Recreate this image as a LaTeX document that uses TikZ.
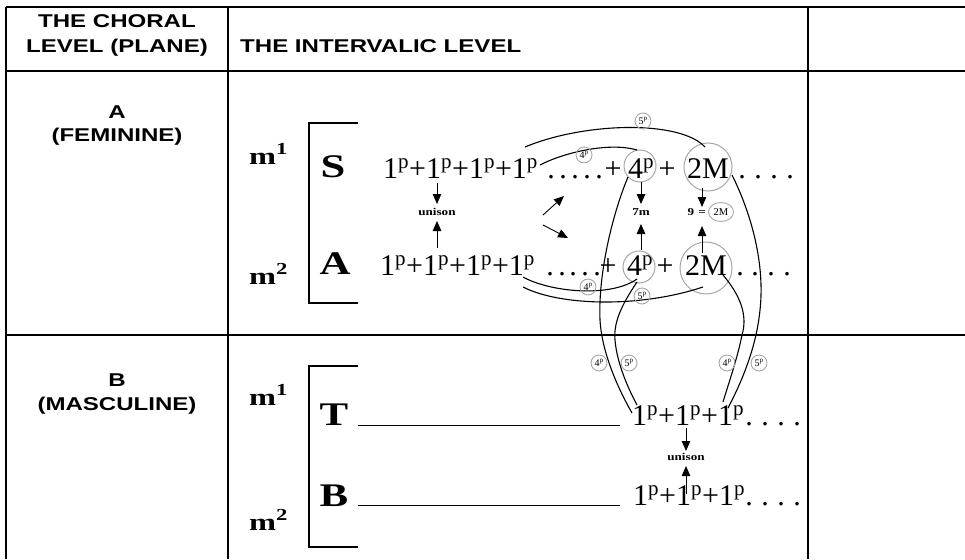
\documentclass[tikz,border=0pt]{standalone}
\usepackage{fontspec}
\usepackage{graphicx}
\setmainfont{Liberation Serif}
\newfontfamily\hdrfont{Liberation Sans}
\usetikzlibrary{arrows.meta,shapes.geometric}
\newcommand{\hsx}[2][1.3]{\scalebox{#1}[1]{#2}}
\newcommand{\op}{1\textsuperscript{p}}
\newcommand{\fp}{4\textsuperscript{p}}
\newcommand{\vp}{5\textsuperscript{p}}
\begin{document}
\begin{tikzpicture}[x=1pt,y=-1pt,
  tbl/.style={line width=1.3pt},
  hdr/.style={font=\hdrfont\bfseries\fontsize{18.5}{20}\selectfont, inner sep=0, anchor=base},
  seq/.style={font=\fontsize{30}{32}\selectfont, inner sep=0, anchor=base},
  voice/.style={font=\bfseries\fontsize{33}{35}\selectfont, inner sep=0, anchor=base},
  mm/.style={font=\bfseries\fontsize{24}{26}\selectfont, inner sep=0, anchor=base west},
  lbl/.style={font=\bfseries\fontsize{10.5}{11}\selectfont, inner sep=0, anchor=base},
  bigc/.style={circle, draw=gray!70, line width=1pt, inner sep=0},
  smallc/.style={circle, draw=gray!70, line width=0.9pt, inner sep=0, minimum size=16pt,
    font=\fontsize{10}{10}\selectfont},
  arr/.style={-{Triangle[length=10pt,width=8.5pt]}, line width=0.9pt},
  crv/.style={line width=1.1pt},
  brk/.style={line width=1.1pt}]
\useasboundingbox (0,0) rectangle (965,559);
% table
\draw[tbl] (6,7) -- (965,7);
\draw[tbl] (6,71) -- (965,71);
\draw[tbl] (6,335) -- (965,335);
\draw[tbl] (6,7) -- (6,559);
\draw[tbl] (228,7) -- (228,559);
\draw[line width=2pt] (808,7) -- (808,559);
% headers
\node[hdr] (h1) at (117,28) {\hsx{THE CHORAL}};
\node[hdr] (h2) at (117,53) {\hsx{LEVEL (PLANE)}};
\node[hdr, anchor=base west] (h3) at (240,53) {\hsx{THE INTERVALIC LEVEL}};
\node[hdr] (ra1) at (117,118) {\hsx{A}};
\node[hdr] (ra2) at (117,141) {\hsx{(FEMININE)}};
\node[hdr] (rb1) at (117,386) {\hsx{B}};
\node[hdr] (rb2) at (117,410) {\hsx{(MASCULINE)}};
% row A brackets and voices
\node[mm] (am1) at (249,164) {\hsx[1.35]{m\textsuperscript{1}}};
\node[mm] (am2) at (249,284) {\hsx[1.35]{m\textsuperscript{2}}};
\coordinate (bat) at (309,123); \coordinate (bab) at (309,303);
\coordinate (batr) at (358,123); \coordinate (babr) at (358,303);
\draw[brk] (batr) -- (bat) -- (bab) -- (babr);
\node[voice] (vS) at (333,177) {\hsx[1.35]{S}};
\node[voice] (vA) at (335,274) {\hsx[1.3]{A}};
% row B brackets and voices
\node[mm] (bm1) at (249,405) {\hsx[1.35]{m\textsuperscript{1}}};
\node[mm] (bm2) at (249,530) {\hsx[1.35]{m\textsuperscript{2}}};
\coordinate (bbt) at (309,366); \coordinate (bbb) at (309,547);
\coordinate (bbtr) at (358,366); \coordinate (bbbr) at (358,547);
\draw[brk] (bbtr) -- (bbt) -- (bbb) -- (bbbr);
\node[voice] (vT) at (334,425) {\hsx[1.3]{T}};
\node[voice] (vB) at (334,506) {\hsx[1.3]{B}};
\coordinate (lt1) at (358,425); \coordinate (lt2) at (620,425);
\coordinate (lb1) at (358,505); \coordinate (lb2) at (620,505);
\draw[line width=1pt] (lt1) -- (lt2);
\draw[line width=1pt] (lb1) -- (lb2);
% S row
\node[seq, anchor=base west] (s1) at (383,178) {\op+\op+\op+\op};
\foreach \x [count=\i] in {551,563,575,587,599} \node[seq] (sd\i) at (\x,178) {.};
\node[seq] (sp1) at (613,178) {+};
\node[seq] (s4) at (641,178) {\fp};
\node[bigc, minimum size=32pt] (s4c) at (640,166) {};
\node[seq] (sp2) at (667,178) {+};
\node[seq] (s2M) at (708,178) {2M};
\node[bigc, minimum size=48pt] (s2Mc) at (708,167) {};
\foreach \x [count=\i] in {742,758,774,790} \node[seq] (se\i) at (\x,178) {.};
% A row
\node[seq, anchor=base west] (a1) at (380,275) {\op+\op+\op+\op};
\foreach \x [count=\i] in {550,562,573,585,597} \node[seq] (ad\i) at (\x,275) {.};
\node[seq] (ap1) at (608,275) {+};
\node[seq] (a4) at (640,275) {\fp};
\node[bigc, minimum size=32pt] (a4c) at (639,267) {};
\node[seq] (ap2) at (665,275) {+};
\node[seq] (a2M) at (706,275) {2M};
\node[bigc, minimum size=52pt] (a2Mc) at (706,268) {};
\foreach \x [count=\i] in {740,755,771,787} \node[seq] (ae\i) at (\x,275) {.};
% T row
\node[seq, anchor=base west] (t1) at (632,425) {\op+\op+\op};
\foreach \x [count=\i] in {749,765,781,797} \node[seq] (te\i) at (\x,425) {.};
% B row
\node[seq, anchor=base west] (b1) at (633,505) {\op+\op+\op};
\foreach \x [count=\i] in {749,765,781,797} \node[seq] (be\i) at (\x,505) {.};
% labels
\node[lbl] (unS) at (437,215) {\hsx[1.25]{unison}};
\node[lbl] (s7m) at (641,215) {\hsx[1.25]{7m}};
\node[lbl] (s9) at (691,215) {\hsx[1.25]{9}};
\node[lbl] (seq) at (702,215) {\hsx[1.25]{=}};
\node[ellipse, draw=gray!70, line width=0.9pt, inner sep=0, minimum width=25pt, minimum height=19pt, font=\fontsize{10.5}{10}\selectfont] (s2Ms) at (721,212) {2M};
\node[lbl] (unT) at (686,460) {\hsx[1.25]{unison}};
% arrows
\coordinate (u1) at (437,183); \coordinate (u1t) at (437,204);
\coordinate (u2) at (437,248); \coordinate (u2t) at (437,221);
\draw[arr] (u1) -- (u1t); \draw[arr] (u2) -- (u2t);
\coordinate (d1) at (543,215); \coordinate (d1t) at (564,196);
\coordinate (d2) at (543,225); \coordinate (d2t) at (568,238);
\draw[arr] (d1) -- (d1t); \draw[arr] (d2) -- (d2t);
\coordinate (m1) at (641,182); \coordinate (m1t) at (641,204);
\coordinate (m2) at (641,250); \coordinate (m2t) at (641,224);
\draw[arr] (m1) -- (m1t); \draw[arr] (m2) -- (m2t);
\coordinate (n1) at (702,188); \coordinate (n1t) at (702,207);
\coordinate (n2) at (702,253); \coordinate (n2t) at (702,226);
\draw[arr] (n1) -- (n1t); \draw[arr] (n2) -- (n2t);
\coordinate (k1) at (686,428); \coordinate (k1t) at (686,451);
\coordinate (k2) at (686,494); \coordinate (k2t) at (686,466);
\draw[arr] (k1) -- (k1t); \draw[arr] (k2) -- (k2t);
% curves top
\coordinate (c1a) at (525,147); \coordinate (c1b) at (705,147);
\draw[crv] (c1a) .. controls (585,122) and (680,120) .. (c1b);
\node[smallc] (l5a) at (643,121) {\vp};
\coordinate (c2a) at (540,165); \coordinate (c2b) at (637,150);
\draw[crv] (c2a) .. controls (565,152) and (610,142) .. (c2b);
\node[smallc] (l4a) at (584,155) {\fp};
% curves bottom of A row
\coordinate (c3a) at (523,277); \coordinate (c3b) at (637,279);
\draw[crv] (c3a) .. controls (550,292) and (610,298) .. (c3b);
\node[smallc] (l4b) at (588,287) {\fp};
\coordinate (c4a) at (523,287); \coordinate (c4b) at (703,287);
\draw[crv] (c4a) .. controls (560,306) and (640,308) .. (c4b);
\node[smallc] (l5b) at (642,296) {\vp};
% vertical curves
\coordinate (v1a) at (628,177); \coordinate (v1m) at (600,320); \coordinate (v1b) at (632,413);
\draw[crv] (v1a) .. controls (612,215) and (598,275) .. (v1m) .. controls (602,355) and (620,392) .. (v1b);
\coordinate (v2a) at (637,282); \coordinate (v2m) at (615,340); \coordinate (v2b) at (637,405);
\draw[crv] (v2a) .. controls (625,300) and (613,320) .. (v2m) .. controls (617,365) and (630,392) .. (v2b);
\node[smallc] (l4c) at (599,363) {\fp};
\node[smallc] (l5c) at (629,363) {\vp};
\coordinate (v3a) at (732,175); \coordinate (v3m) at (760,310); \coordinate (v3b) at (728,408);
\draw[crv] (v3a) .. controls (752,215) and (765,265) .. (v3m) .. controls (756,350) and (740,385) .. (v3b);
\coordinate (v4a) at (723,275); \coordinate (v4m) at (742,335); \coordinate (v4b) at (723,402);
\draw[crv] (v4a) .. controls (740,295) and (748,315) .. (v4m) .. controls (737,360) and (728,385) .. (v4b);
\node[smallc] (l4d) at (727,363) {\fp};
\node[smallc] (l5d) at (759,363) {\vp};
\end{tikzpicture}
\end{document}
